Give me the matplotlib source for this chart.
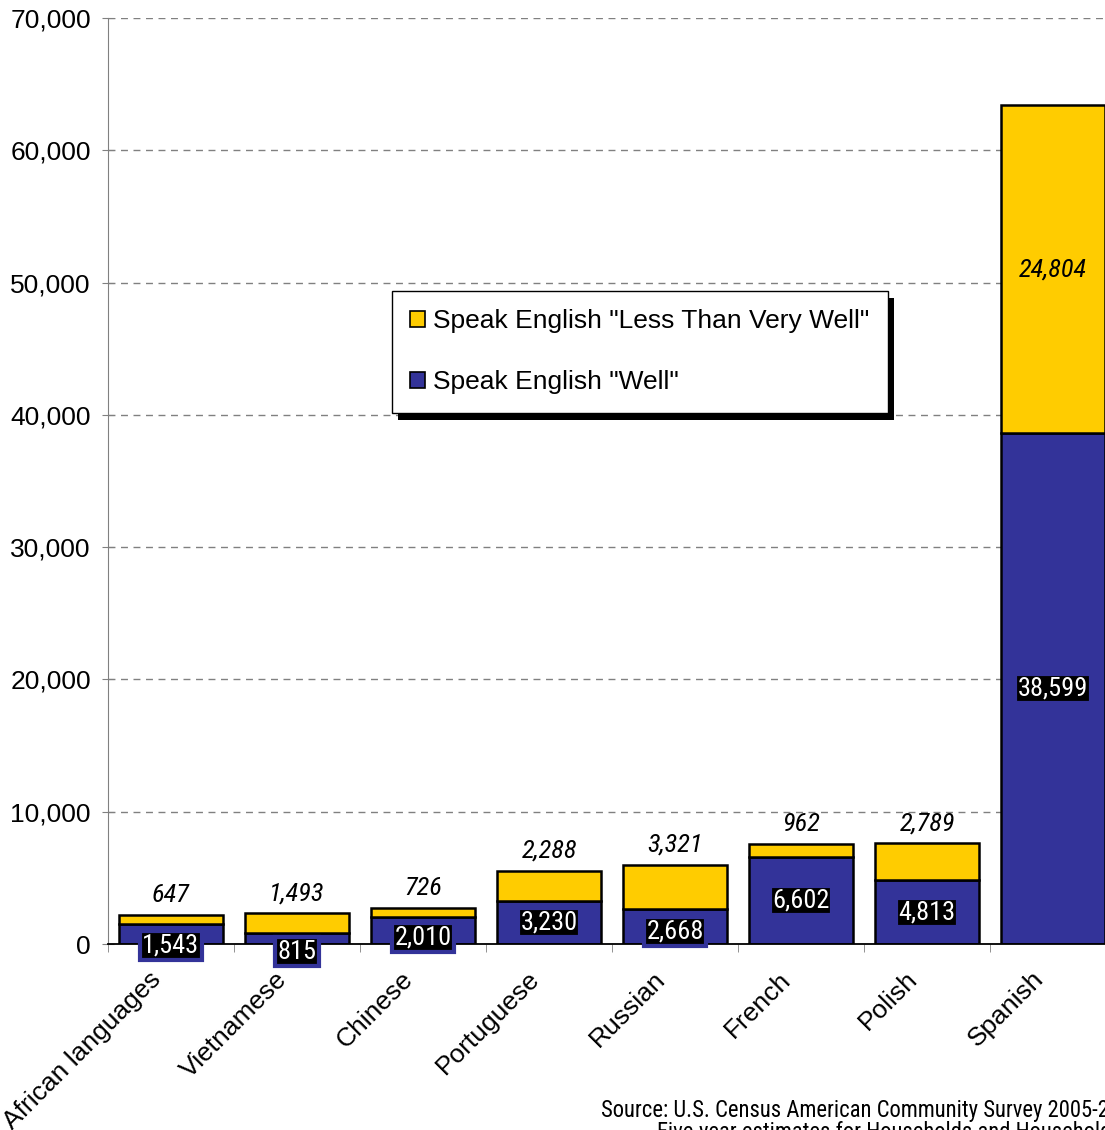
import numpy as np
import matplotlib
matplotlib.use("Agg")
import matplotlib.pyplot as plt
from matplotlib.patches import Patch, Rectangle
from matplotlib.transforms import offset_copy, IdentityTransform

# Population (speakers) by language group
languages = ["African languages", "Vietnamese", "Chinese", "Portuguese",
             "Russian", "French", "Polish", "Spanish"]
speak_well = [1543, 815, 2010, 3230, 2668, 6602, 4813, 38599]
speak_less = [647, 1493, 726, 2288, 3321, 962, 2789, 24804]
yticks = [0, 10000, 20000, 30000, 40000, 50000, 60000, 70000]

# small manual nudges (pixels) for the white-on-black labels near the axis
label_drop = [-12, -13, -7, 0, -5, 0, 0, 0]

BLUE = "#333399"
GOLD = "#FFCC00"
NARROW = ["Roboto Condensed", "Archivo Narrow", "Liberation Sans", "DejaVu Sans"]
lab_size = 19

plt.rcParams["font.family"] = ["Liberation Sans", "DejaVu Sans"]

W, H = 1105, 1130
fig = plt.figure(figsize=(W / 100, H / 100), dpi=100)
ax = fig.add_axes([108 / W, 1 - 944 / H, (1116 - 108) / W, (944 - 18) / H])

x = np.arange(len(languages))
well = np.array(speak_well)
less = np.array(speak_less)
ax.bar(x, well, width=0.83, color=BLUE, edgecolor="black", linewidth=1.8, zorder=3)
ax.bar(x, less, bottom=well, width=0.83, color=GOLD, edgecolor="black", linewidth=1.8, zorder=3)

ax.set_xlim(-0.5, len(languages) - 0.5)
ax.set_ylim(0, 70000)
ax.set_yticks(yticks)
ax.set_yticklabels([f"{v:,}" for v in yticks])
ax.yaxis.grid(True, linestyle=(0, (5, 4)), color="#808080", linewidth=1)
ax.set_axisbelow(True)

for s in ["top", "right"]:
    ax.spines[s].set_visible(False)
ax.spines["left"].set_color("#808080")
ax.spines["bottom"].set_color("black")
ax.spines["bottom"].set_linewidth(1.3)
ax.spines["bottom"].set_zorder(4)

ax.tick_params(axis="y", direction="inout", length=8.6, color="#808080",
               labelsize=19, pad=8)
ax.set_xticks(x)
ax.set_xticklabels([])
ax.tick_params(axis="x", which="major", length=0)
ax.set_xticks(np.arange(len(languages) + 1) - 0.5, minor=True)
ax.tick_params(axis="x", which="minor", direction="out", length=6, color="#808080")

# category names, rotated
name_tr = offset_copy(ax.get_xaxis_transform(), fig, x=-22, y=-23, units="dots")
for i, name in enumerate(languages):
    ax.text(i, 0, name, transform=name_tr, rotation=45, rotation_mode="anchor",
            ha="right", va="top", fontsize=19, clip_on=False)

# value labels
for i in range(len(languages)):
    tr = offset_copy(ax.transData, fig, y=label_drop[i], units="dots")
    ax.text(i, well[i] / 2, f"{well[i]:,}", transform=tr, ha="center", va="center",
            color="white", family=NARROW, fontsize=lab_size, zorder=6,
            clip_on=False,
            bbox=dict(boxstyle="square,pad=0.1", fc="black", ec=BLUE, lw=3))
    if less[i] > 10000:
        ax.text(i, well[i] + less[i] / 2, f"{less[i]:,}", ha="center", va="center",
                style="italic", family=NARROW, fontsize=lab_size, zorder=6)
    else:
        up = offset_copy(ax.transData, fig, y=20, units="dots")
        ax.text(i, well[i] + less[i], f"{less[i]:,}", transform=up, ha="center",
                va="center", style="italic", family=NARROW,
                fontsize=lab_size, zorder=6)

handles = [Patch(facecolor=GOLD, edgecolor="black", linewidth=1.2),
           Patch(facecolor=BLUE, edgecolor="black", linewidth=1.2)]
leg = fig.legend(handles, ['Speak English "Less Than Very Well"', 'Speak English "Well"'],
                 loc="upper left", bbox_to_anchor=(392 / W, 1 - 291 / H),
                 fontsize=19, frameon=True, fancybox=False, framealpha=1,
                 edgecolor="black", borderaxespad=0, borderpad=0.7,
                 handlelength=0.55, handleheight=0.55, handletextpad=0.3,
                 labelspacing=1.4)
leg.get_frame().set_linewidth(1.0)

fig.text(601 / W, 1 - 1110 / H, "Source: U.S. Census American Community Survey 2005-2009",
         va="center", ha="left", family=NARROW, fontsize=16.3)
fig.text(657 / W, 1 - 1133 / H, "Five-year estimates for Households and Households by Spanish",
         va="center", ha="left", family=NARROW, fontsize=16.3)

# solid drop shadow behind the legend box
fig.canvas.draw()
bb = leg.get_window_extent()
fig.add_artist(Rectangle((bb.x0 + 6, bb.y0 - 7), bb.width, bb.height,
                         transform=IdentityTransform(), facecolor="black",
                         edgecolor="none", zorder=leg.get_zorder() - 0.5))

fig.savefig("out.png", dpi=100)
